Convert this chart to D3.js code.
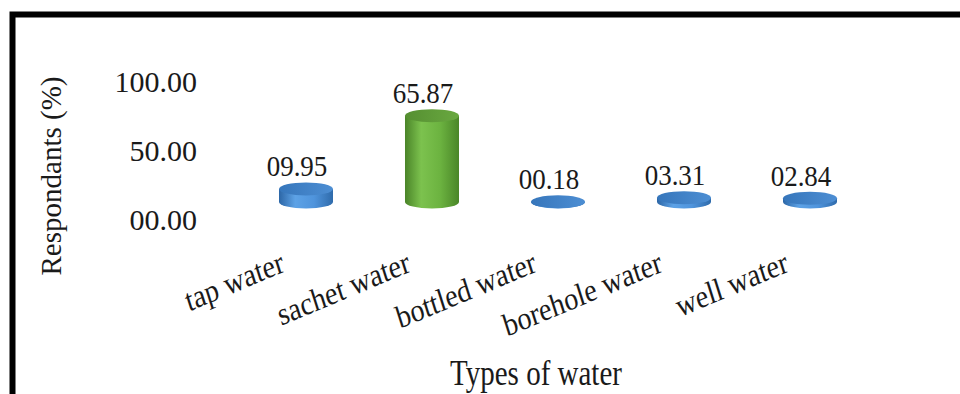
<!DOCTYPE html>
<html>
<head>
<meta charset="utf-8">
<script src="https://cdn.jsdelivr.net/npm/d3@7"></script>
<style>
  html, body { margin: 0; padding: 0; background: #fff; }
  svg { display: block; }
  text { font-family: "Liberation Serif", "Times New Roman", serif; fill: #1a1a1a; }
</style>
</head>
<body>
<svg id="chart" width="960" height="394"></svg>
<script>
// Water sources and share of respondants (%)
const categories = ["tap water", "sachet water", "bottled water", "borehole water", "well water"];
const values = [9.95, 65.87, 0.18, 3.31, 2.84];
const valueLabels = ["09.95", "65.87", "00.18", "03.31", "02.84"];
const barColors = ["blue", "green", "blue", "blue", "blue"];
const yTicks = [0, 50, 100];
const yTickLabels = ["00.00", "50.00", "100.00"];
const yTitle = "Respondants (%)";
const xTitle = "Types of water";

const svg = d3.select("#chart");
const W = 960, H = 394;

// Gradients for the cylinder sides and tops
const defs = svg.append("defs");
const palettes = {
  blue:  { side: ["#2c66a6", "#5da2e6", "#4f94dc", "#2f6bab"], top: ["#3676bb", "#4d8ed3"] },
  green: { side: ["#4a8428", "#7cc24e", "#6cb340", "#4a8628"], top: ["#558f31", "#69a840"] }
};
Object.entries(palettes).forEach(([k, p]) => {
  const gs = defs.append("linearGradient").attr("id", "side-" + k)
    .attr("x1", 0).attr("x2", 1).attr("y1", 0).attr("y2", 0);
  [0, 0.3, 0.65, 1].forEach((o, i) => gs.append("stop").attr("offset", o).attr("stop-color", p.side[i]));
  const gt = defs.append("linearGradient").attr("id", "top-" + k)
    .attr("x1", 0).attr("x2", 1).attr("y1", 0).attr("y2", 0);
  gt.append("stop").attr("offset", 0).attr("stop-color", p.top[0]);
  gt.append("stop").attr("offset", 1).attr("stop-color", p.top[1]);
});

// Frame
svg.append("rect")
  .attr("x", 12.5).attr("y", 14.5)
  .attr("width", W + 40).attr("height", H + 40)
  .attr("fill", "none").attr("stroke", "#000").attr("stroke-width", 6);

// Scales: bars stand on the floor, tick labels sit on the back wall
const x = d3.scaleBand().domain(categories).range([243, 873])
  .paddingInner(0.5714).paddingOuter(0.2857);
const yBar = d3.scaleLinear().domain([0, 100]).range([202, 71]);
const yWall = d3.scaleLinear().domain([0, 100]).range([230, 92]);

// Y tick labels
svg.append("g").selectAll("text").data(yTicks).join("text")
  .attr("x", 197).attr("y", d => yWall(d))
  .attr("text-anchor", "end")
  .attr("font-size", 30)
  .text((d, i) => yTickLabels[i]);

// Y axis title
svg.append("text")
  .attr("transform", "translate(61,176) rotate(-90)")
  .attr("text-anchor", "middle")
  .attr("font-size", 29)
  .text(yTitle);

// Cylinders
const rx = x.bandwidth() / 2, ry = 6.5;
const bars = svg.append("g").selectAll("g").data(categories).join("g");
bars.append("path")
  .attr("d", (c, i) => {
    const cx = x(c) + rx, yb = yBar(0), yt = yBar(values[i]);
    return `M${cx - rx},${yt} L${cx - rx},${yb} A${rx},${ry} 0 0 0 ${cx + rx},${yb} L${cx + rx},${yt} Z`;
  })
  .attr("fill", (c, i) => `url(#side-${barColors[i]})`);
bars.append("ellipse")
  .attr("cx", c => x(c) + rx)
  .attr("cy", (c, i) => yBar(values[i]))
  .attr("rx", rx).attr("ry", ry)
  .attr("fill", (c, i) => `url(#top-${barColors[i]})`);

// Value labels above each cylinder
svg.append("g").selectAll("text").data(categories).join("text")
  .attr("transform", (c, i) => `translate(${x(c) + rx - 9},${yBar(values[i]) - ry - 6}) scale(1,1.1)`)
  .attr("text-anchor", "middle")
  .attr("font-size", 27)
  .text((c, i) => valueLabels[i]);

// Slanted category labels
svg.append("g").selectAll("text").data(categories).join("text")
  .attr("transform", c => `translate(${x(c) + rx - 20},${271}) scale(1,1.15) rotate(-20)`)
  .attr("text-anchor", "end")
  .attr("font-size", 28)
  .text(c => c);

// X axis title
svg.append("text")
  .attr("transform", "translate(536,385) scale(1,1.2)")
  .attr("text-anchor", "middle")
  .attr("font-size", 29)
  .text(xTitle);
</script>
</body>
</html>
